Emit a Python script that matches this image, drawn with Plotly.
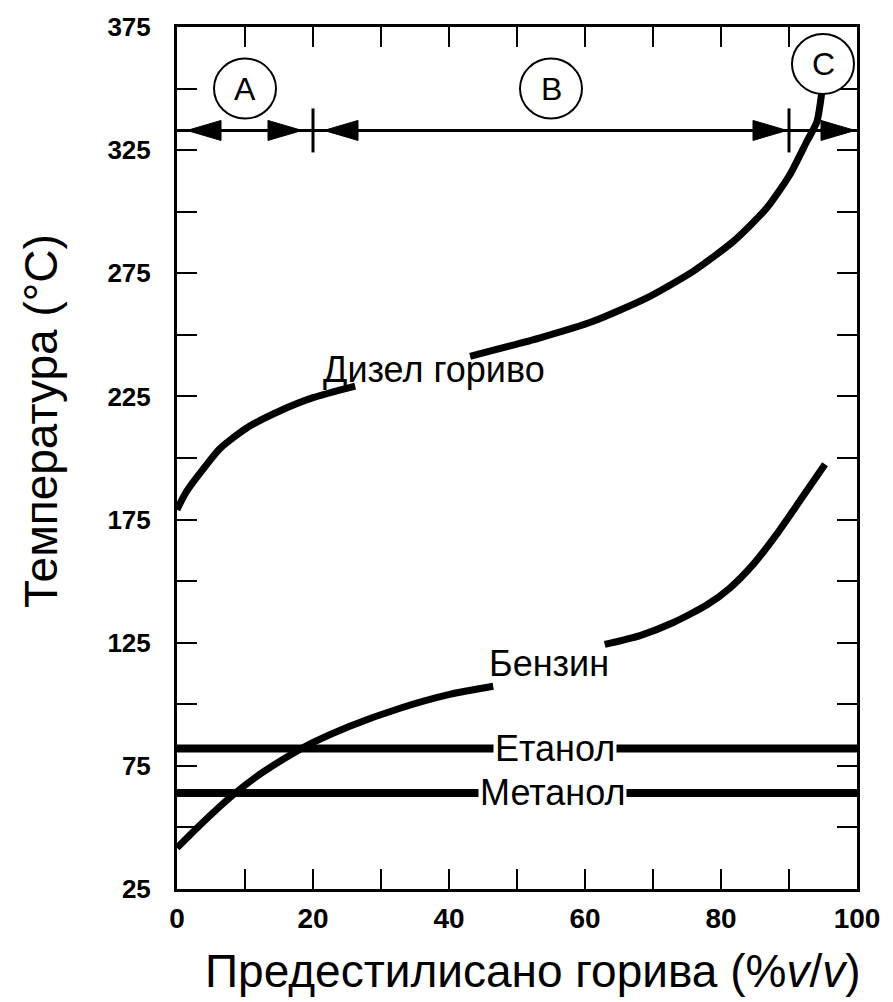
import plotly.graph_objects as go

# ---- data ----
diesel_x1 = [0.0, 1.2, 2.9, 6.3, 10.3, 15.1, 20.0, 26.2]
diesel_t1 = [179.0, 185.5, 192.1, 203.8, 212.3, 219.1, 224.5, 229.2]
diesel_x2 = [43.1, 53.4, 61.2, 69.1, 75.9, 81.8, 86.7, 90.1, 92.6, 94.1, 94.8]
diesel_t2 = [241.3, 248.8, 255.5, 265.0, 275.8, 287.9, 301.4, 314.9, 328.4, 336.5, 348.0]

gas_x1 = [0.0, 3.4, 8.2, 12.2, 16.6, 20.1, 25.4, 32.8, 40.1, 46.5]
gas_t1 = [41.7, 51.0, 63.1, 71.6, 79.3, 84.6, 91.1, 98.4, 104.0, 107.3]
gas_x2 = [62.9, 68.1, 73.0, 77.9, 81.3, 84.8, 88.2, 91.6, 95.3]
gas_t2 = [124.3, 127.9, 133.2, 140.3, 147.2, 157.0, 169.1, 182.6, 197.5]

ethanol_x = [0, 100]
ethanol_t = [82, 82]
methanol_x = [0, 100]
methanol_t = [64, 64]

region_names = ["A", "B", "C"]
region_bounds = [0, 20, 90, 100]
region_arrow_t = 333
region_label_t = [350, 350, 360]

x_tickvals = list(range(0, 101, 10))
x_ticktext = [str(v) if v % 20 == 0 else "" for v in x_tickvals]
y_tickvals = list(range(25, 376, 25))
y_ticktext = [str(v) if (v - 25) % 50 == 0 else "" for v in y_tickvals]

labels = {
    "diesel": ("Дизел гориво", 37.8, 236.0),
    "gasoline": ("Бензин", 54.7, 116.5),
}
x_title = "Предестилисано горива (%<i>v</i>/<i>v</i>)"
y_title = "Температура (°C)"

FONT = "Liberation Sans, Arial, sans-serif"
BLACK = "black"

fig = go.Figure()
line_style = dict(color=BLACK, width=7, shape="spline", smoothing=0.6)
for xs, ts in [(diesel_x1, diesel_t1), (diesel_x2, diesel_t2),
               (gas_x1, gas_t1), (gas_x2, gas_t2)]:
    fig.add_trace(go.Scatter(x=xs, y=ts, mode="lines", line=line_style,
                             showlegend=False, hoverinfo="skip"))
for xs, ts in [(ethanol_x, ethanol_t), (methanol_x, methanol_t)]:
    fig.add_trace(go.Scatter(x=xs, y=ts, mode="lines",
                             line=dict(color=BLACK, width=8),
                             showlegend=False, hoverinfo="skip"))

annotations = []
# curve labels
for key in ["diesel", "gasoline"]:
    txt, lx, lt = labels[key]
    annotations.append(dict(x=lx, y=lt, text=txt, showarrow=False,
                            xanchor="center", yanchor="middle",
                            font=dict(family=FONT, size=36, color=BLACK)))
# horizontal line labels with white background (gap in the line)
annotations.append(dict(x=55.2, y=methanol_t[0], text="Метанол", showarrow=False,
                        xanchor="center", yanchor="middle", bgcolor="white",
                        borderpad=1,
                        font=dict(family=FONT, size=36, color=BLACK)))
annotations.append(dict(x=55.6, y=ethanol_t[0], text="Етанол", showarrow=False,
                        xanchor="center", yanchor="middle", bgcolor="white",
                        borderpad=1,
                        font=dict(family=FONT, size=36, color=BLACK)))

shapes = []
# region arrow line
shapes.append(dict(type="line", xref="x", yref="y",
                   x0=region_bounds[0], x1=region_bounds[-1],
                   y0=region_arrow_t, y1=region_arrow_t,
                   line=dict(color=BLACK, width=3)))
# boundary ticks
for b in region_bounds[1:-1]:
    shapes.append(dict(type="line", xref="x", yref="y",
                       xsizemode="pixel", ysizemode="pixel",
                       xanchor=b, yanchor=region_arrow_t,
                       x0=0, x1=0, y0=-22, y1=22,
                       line=dict(color=BLACK, width=3)))

def head(anchor, direction, gap):
    L, H = 34, 10
    if direction == "left":
        p = f"M{gap},0 L{gap + L},{H} L{gap + L},{-H} Z"
    else:
        p = f"M{-gap},0 L{-gap - L},{H} L{-gap - L},{-H} Z"
    return dict(type="path", xref="x", yref="y",
                xsizemode="pixel", ysizemode="pixel",
                xanchor=anchor, yanchor=region_arrow_t, path=p,
                fillcolor=BLACK, line=dict(color=BLACK, width=1))

shapes.append(head(region_bounds[0], "left", 10))
shapes.append(head(region_bounds[1], "right", 11))
shapes.append(head(region_bounds[1], "left", 11))
shapes.append(head(region_bounds[2], "right", 2))
shapes.append(head(region_bounds[3], "right", 2))

# circled region letters
for i, name in enumerate(region_names):
    cx = (region_bounds[i] + region_bounds[i + 1]) / 2
    ct = region_label_t[i]
    shapes.append(dict(type="circle", xref="x", yref="y",
                       xsizemode="pixel", ysizemode="pixel",
                       xanchor=cx, yanchor=ct,
                       x0=-31, x1=31, y0=-30, y1=30,
                       fillcolor="white",
                       line=dict(color=BLACK, width=2)))
    annotations.append(dict(x=cx, y=ct, text=name, showarrow=False,
                            xanchor="center", yanchor="middle",
                            font=dict(family=FONT, size=32, color=BLACK)))

# axis titles
annotations.append(dict(xref="paper", yref="paper", x=0.5235, y=0,
                        yshift=-82, text=x_title, showarrow=False,
                        xanchor="center", yanchor="middle",
                        font=dict(family=FONT, size=46, color=BLACK)))
annotations.append(dict(xref="paper", yref="paper", x=0, y=0.543,
                        xshift=-136, text=y_title, showarrow=False,
                        textangle=-90, xanchor="center", yanchor="middle",
                        font=dict(family=FONT, size=46, color=BLACK)))

axis_common = dict(showline=True, linecolor=BLACK, linewidth=3,
                   mirror="allticks", ticks="inside", ticklen=20,
                   tickwidth=2, tickcolor=BLACK, showgrid=False,
                   zeroline=False)

fig.update_layout(
    width=893, height=1002,
    margin=dict(l=177, r=36, t=25, b=113),
    paper_bgcolor="white", plot_bgcolor="white",
    showlegend=False,
    xaxis=dict(range=[0, 100], tickvals=x_tickvals, ticktext=x_ticktext,
               tickfont=dict(family=FONT, size=28, color=BLACK,
                             weight="bold"),
               ticklabelstandoff=2, **axis_common),
    yaxis=dict(range=[25, 375], tickvals=y_tickvals, ticktext=y_ticktext,
               tickfont=dict(family=FONT, size=26, color=BLACK,
                             weight="bold"),
               ticklabelstandoff=18, **axis_common),
    shapes=shapes,
    annotations=annotations,
)

fig.write_html("out.html", config={"displayModeBar": False},
               post_script="document.body.style.margin='0';")
